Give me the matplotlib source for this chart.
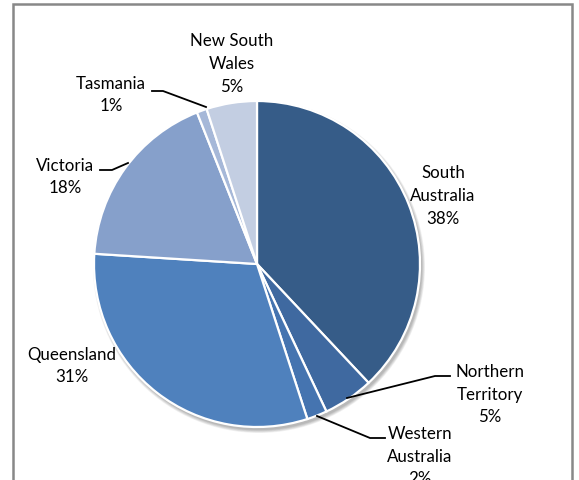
import matplotlib.pyplot as plt
from matplotlib.patches import Circle, Rectangle

# data, clockwise from 12 o'clock
regions = ['South\nAustralia', 'Northern\nTerritory', 'Western\nAustralia',
           'Queensland', 'Victoria', 'Tasmania', 'New South\nWales']
shares = [38, 5, 2, 31, 18, 1, 5]
colors = ['#365c88', '#3f69a0', '#4574b0', '#4f81bd', '#86a0cb', '#a6b8d8', '#c3cee2']

# label centres and leader lines in pixel coords (y measured from top)
label_pos = [(443, 196), (490, 395), (420, 457), (72, 366), (65, 177), (111, 95), (232, 64)]
leaders = {
    1: [(347, 399), (435, 377), (450, 377)],
    2: [(317, 417), (370, 439), (385, 439)],
    4: [(128, 164), (112, 171), (100, 171)],
    5: [(206, 108), (163, 92), (152, 92)],
}

W, H = 579, 481
fig = plt.figure(figsize=(W / 100, H / 100), dpi=100)
ax = fig.add_axes([0, 0, 1, 1])

cx, cy, r = 257, H - 265, 163

# soft shadow under the pie
for i in range(6):
    ax.add_patch(Circle((cx + 2, cy - 3), r + 3 - i * 0.6, color='black',
                        alpha=0.05, lw=0, zorder=0))

ax.pie(shares, colors=colors, startangle=90, counterclock=False,
       center=(cx, cy), radius=r, frame=True,
       wedgeprops=dict(edgecolor='white', linewidth=1.6))

for i, (lab, pct) in enumerate(zip(regions, shares)):
    x, y = label_pos[i]
    ax.text(x, H - y, f'{lab}\n{pct}%', ha='center', va='center',
            fontsize=12.2, family='Lato', linespacing=1.5, color='black')

for pts in leaders.values():
    ax.plot([p[0] for p in pts], [H - p[1] for p in pts], color='black', lw=1.3)

# chart border
ax.add_patch(Rectangle((13, -20), 559, H - 5 + 20, fill=False,
                       edgecolor='#888888', lw=1.8, zorder=5))

ax.set_xlim(0, W)
ax.set_ylim(0, H)
ax.set_aspect('auto')
ax.axis('off')

fig.savefig('out.png', dpi=100)
